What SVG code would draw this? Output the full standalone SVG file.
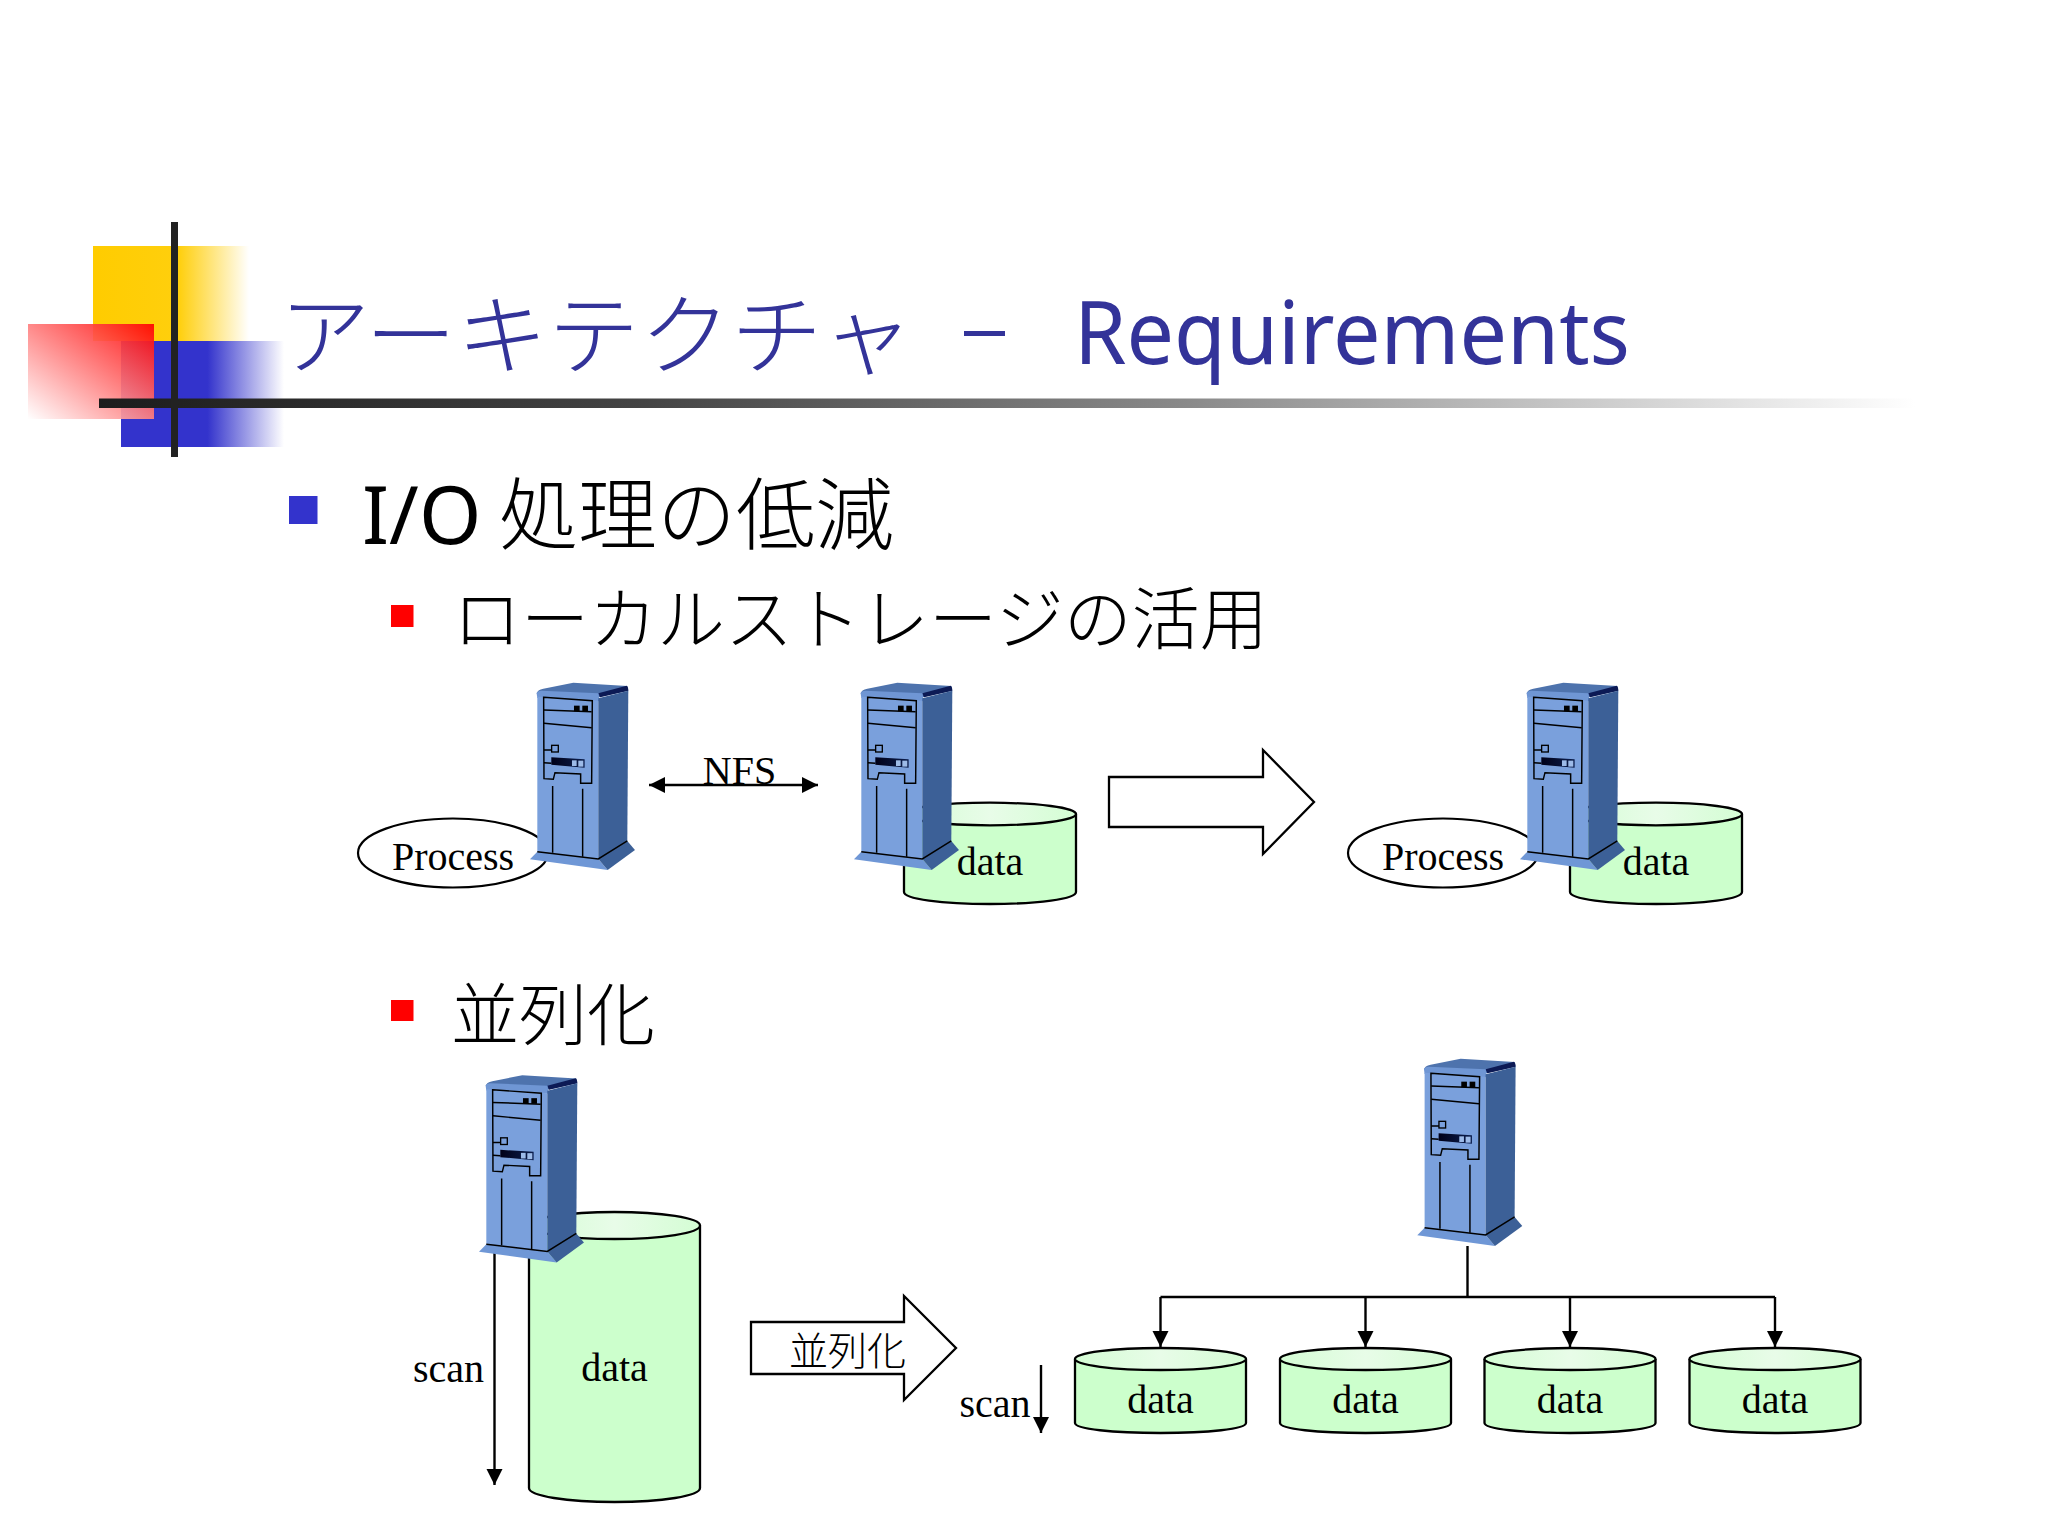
<svg xmlns="http://www.w3.org/2000/svg" width="2048" height="1536" viewBox="0 0 2048 1536">
<style>
.ln{stroke:#000;fill:none;stroke-width:4.400}
.conn{stroke:#000;fill:none;stroke-width:2.4}
.disk{fill:#ccffcc;stroke:#000;stroke-width:2.3}
.diskTop{fill:url(#topG);stroke:#000;stroke-width:2.3}
.blk{fill:#fff;stroke:#000;stroke-width:2.3}
.t{font-family:"Liberation Serif","Noto Sans CJK JP",serif;font-size:40px;fill:#000;text-anchor:middle}
.cjk{font-family:"Noto Sans CJK JP","Liberation Serif",serif;font-weight:300;fill:#000}
.title{font-family:"Noto Sans CJK JP",serif;font-weight:300;fill:#333399;font-size:88px}
.lat{font-family:"Noto Sans","Liberation Sans",sans-serif}
</style>
<defs>
<linearGradient id="topG" x1="0" y1="0" x2="1" y2="0"><stop offset="0" stop-color="#d4fdd4"/><stop offset=".5" stop-color="#e8fce8"/><stop offset="1" stop-color="#d4fdd4"/></linearGradient>
<linearGradient id="yel"><stop offset="0" stop-color="#ffcc00"/><stop offset=".55" stop-color="#ffcf0d"/><stop offset="1" stop-color="#ffcc00" stop-opacity="0"/></linearGradient>
<linearGradient id="blu"><stop offset="0" stop-color="#3333cc"/><stop offset=".53" stop-color="#3333cc"/><stop offset="1" stop-color="#3333cc" stop-opacity="0"/></linearGradient>
<linearGradient id="red" x1="1" y1="0" x2="0" y2="1"><stop offset="0" stop-color="#ff0000"/><stop offset="1" stop-color="#ffffff"/></linearGradient>
<linearGradient id="bar"><stop offset="0" stop-color="#1c1c1c"/><stop offset=".3" stop-color="#444"/><stop offset=".6" stop-color="#8a8a8a"/><stop offset="1" stop-color="#fff"/></linearGradient>
<linearGradient id="drv"><stop offset="0" stop-color="#000018"/><stop offset="1" stop-color="#0c1f4f"/></linearGradient>
<marker id="ah" markerUnits="userSpaceOnUse" markerWidth="17" markerHeight="17" refX="16" refY="8" orient="auto-start-reverse"><path d="M0,0L16,8L0,16Z" fill="#000"/></marker>
<g id="server">
<path d="M590,100Q592,90 610,86L700,68L862,78L865,92L775,112L592,102Z" fill="#4e73ad"/>
<path d="M775,100L860,77Q865,80 865,92L780,112Z" fill="#0c1a55"/>
<path d="M590,100Q592,92 605,92L775,100L780,124L592,114Z" fill="#6f96d4"/>
<path d="M592,110L775,122L775,597L592,575Z" fill="#7aa0dc"/>
<path d="M775,115L865,92L862,543L775,597Z" fill="#3c6097"/>
<path d="M592,575L775,597L803,630L570,598Z" fill="#6f97d6"/>
<path d="M775,597L862,543L885,570L803,630Z" fill="#3c6097"/>
<path class="ln" d="M592,575L775,597L862,543"/>
<path class="ln" d="M611,112L757,122L755,370L722,370L722,342L645,338L640,358L612,356Z"/>
<path class="ln" d="M612,150L755,155M612,190L755,203M612,270L635,270M612,308L634,310M638,378V578M728,386V590"/>
<rect x="702" y="137" width="17" height="17" fill="#000"/><rect x="727" y="137" width="17" height="17" fill="#000"/>
<rect x="635" y="256" width="20" height="20" fill="#7aa0dc" stroke="#000" stroke-width="4"/>
<path d="M634,292L734,298L734,323L634,314Z" fill="url(#drv)"/>
<rect x="696" y="301" width="14" height="17" fill="#9dbbe8"/><rect x="715" y="302" width="15" height="18" fill="#9dbbe8"/>
</g>
<g id="tallDisk">
<path class="disk" d="M0,0V78C0,85 38,90 86,90C134,90 172,85 172,78V0"/>
<ellipse class="diskTop" cx="86" cy="0" rx="86" ry="11.300"/>
</g>
<g id="shortDisk">
<path class="disk" d="M0,0V64C0,70 38,74 85.500,74C133,74 171,70 171,64V0"/>
<ellipse class="diskTop" cx="85.500" cy="0" rx="85.500" ry="11"/>
</g>
</defs>
<rect width="2048" height="1536" fill="#fff"/>

<g id="logo">
<rect x="93" y="246" width="156" height="95" fill="url(#yel)"/>
<rect x="121" y="341" width="163" height="106" fill="url(#blu)"/>
<rect x="28" y="324" width="126" height="95" fill="url(#red)" opacity=".92"/>
<rect x="99" y="398.500" width="1816" height="9.500" fill="url(#bar)"/>
<rect x="171" y="222" width="7" height="235" fill="#222"/>
</g>

<g id="title">
<text class="title" x="279" y="367" textLength="634" lengthAdjust="spacingAndGlyphs">アーキテクチャ</text>
<rect x="964" y="331" width="41" height="5" fill="#333399"/>
<text class="lat" x="1074" y="364" font-size="88" fill="#333399" textLength="556" lengthAdjust="spacingAndGlyphs">Requirements</text>
</g>

<g id="bullets">
<rect x="289" y="496" width="28.500" height="28" fill="#3333cc"/>
<text class="lat" x="362" y="544" font-size="80" fill="#000">I/O</text>
<text class="cjk" x="499" y="544" font-size="79">処理の低減</text>
<rect x="391" y="605" width="22.500" height="22" fill="#ff0000"/>
<text class="cjk" x="453" y="644" font-size="68">ローカルストレージの活用</text>
<rect x="391" y="1000" width="22.500" height="21" fill="#ff0000"/>
<text class="cjk" x="451" y="1040" font-size="68">並列化</text>
</g>

<g id="connectors">
<line class="conn" x1="649" y1="785" x2="818" y2="785" marker-start="url(#ah)" marker-end="url(#ah)"/>
<line class="conn" x1="494.500" y1="1250" x2="494.500" y2="1485" marker-end="url(#ah)"/>
<line class="conn" x1="1041" y1="1365" x2="1041" y2="1433" marker-end="url(#ah)"/>
<path class="conn" d="M1467.500,1246V1297"/>
<path class="conn" d="M1160.500,1297H1775"/>
<line class="conn" x1="1160.500" y1="1297" x2="1160.500" y2="1347" marker-end="url(#ah)"/>
<line class="conn" x1="1365.500" y1="1297" x2="1365.500" y2="1347" marker-end="url(#ah)"/>
<line class="conn" x1="1570" y1="1297" x2="1570" y2="1347" marker-end="url(#ah)"/>
<line class="conn" x1="1775" y1="1297" x2="1775" y2="1347" marker-end="url(#ah)"/>
</g>

<g id="process1"><ellipse cx="453" cy="853" rx="95" ry="34.500" fill="#fff" stroke="#000" stroke-width="2.2"/><text class="t" x="453" y="870">Process</text></g>
<g id="nfs-label"><text class="t" x="739.500" y="784">NFS</text></g>
<g id="server1"><use href="#server" transform="translate(340,660) scale(.3333)"/></g>

<g id="disk1"><use href="#tallDisk" transform="translate(904,814)"/><text class="t" x="990" y="875">data</text></g>
<g id="server2"><use href="#server" transform="translate(664,660) scale(.3333)"/></g>

<g id="arrow1"><path class="blk" d="M1109,777H1263V750L1314,802L1263,854V827H1109Z"/></g>

<g id="process2"><ellipse cx="1443" cy="853" rx="95" ry="34.500" fill="#fff" stroke="#000" stroke-width="2.2"/><text class="t" x="1443" y="870">Process</text></g>
<g id="disk2"><use href="#tallDisk" transform="translate(1570,814)"/><text class="t" x="1656" y="875">data</text></g>
<g id="server3"><use href="#server" transform="translate(1330,660) scale(.3333)"/></g>

<g id="bigDisk">
<path class="disk" d="M529,1225.500V1488C529,1496 567,1502 614.500,1502C662,1502 700,1496 700,1488V1225.500"/>
<ellipse class="diskTop" cx="614.500" cy="1225.500" rx="85.500" ry="13.500"/>
<text class="t" x="614.500" y="1381">data</text>
</g>
<g id="server4"><use href="#server" transform="translate(289,1052.500) scale(.3333)"/></g>
<g id="scan1"><text class="t" x="448.500" y="1382">scan</text></g>

<g id="arrow2"><path class="blk" d="M751,1322H904V1296L956,1348L904,1400V1374H751Z"/>
<text x="789" y="1365" font-family="Noto Sans CJK JP,serif" font-weight="300" font-size="39">並列化</text></g>

<g id="scan2"><text class="t" x="995" y="1417">scan</text></g>
<g id="server5"><use href="#server" transform="translate(1227.300,1036) scale(.3333)"/></g>
<g id="data-a"><use href="#shortDisk" transform="translate(1075,1359)"/><text class="t" x="1160.500" y="1413">data</text></g>
<g id="data-b"><use href="#shortDisk" transform="translate(1280,1359)"/><text class="t" x="1365.500" y="1413">data</text></g>
<g id="data-c"><use href="#shortDisk" transform="translate(1484.500,1359)"/><text class="t" x="1570" y="1413">data</text></g>
<g id="data-d"><use href="#shortDisk" transform="translate(1689.500,1359)"/><text class="t" x="1775" y="1413">data</text></g>
</svg>
